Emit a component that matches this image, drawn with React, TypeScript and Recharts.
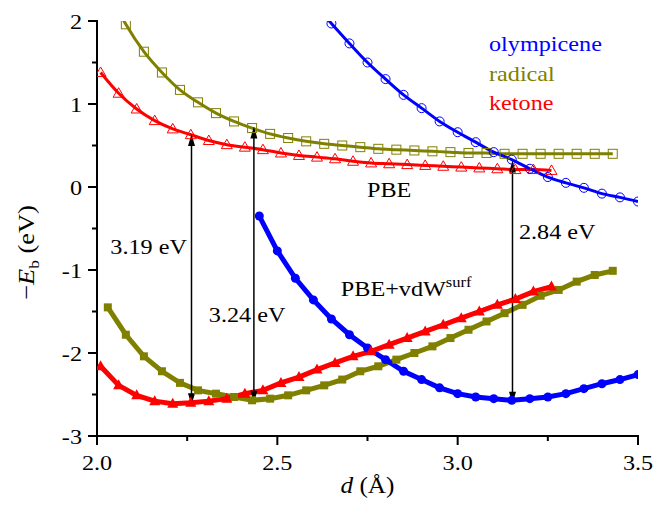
import React from "react";
import { ComposedChart, Line, XAxis, YAxis, ReferenceLine, ReferenceDot, Legend } from "recharts";

const FONT = '"Liberation Serif", "Times New Roman", Times, serif';
const BLUE = "#0000FF";
const OLIVE = "#808000";
const RED = "#FF0000";
const SX = 1.1; // horizontal text stretch of the reference

// axis ticks
const xTicks = [2.0, 2.25, 2.5, 2.75, 3.0, 3.25, 3.5];
const yTicks = [-3, -2.5, -2, -1.5, -1, -0.5, 0, 0.5, 1, 1.5, 2];

// legend
const seriesNames = ["olympicene", "radical", "ketone"];
const seriesColors = [BLUE, OLIVE, RED];

// PBE curves (open symbols)
const pbeOlyD = [2.6, 2.65, 2.7, 2.75, 2.8, 2.85, 2.9, 2.95, 3.0, 3.05, 3.1, 3.15, 3.2, 3.25, 3.3, 3.35, 3.4, 3.45, 3.5];
const pbeOlyE = [2.22, 1.97, 1.73, 1.5, 1.3, 1.11, 0.95, 0.79, 0.66, 0.54, 0.42, 0.33, 0.22, 0.12, 0.05, -0.01, -0.08, -0.125, -0.175];

const pbeRadD = [2.03, 2.08, 2.13, 2.18, 2.23, 2.28, 2.33, 2.38, 2.43, 2.48, 2.53, 2.58, 2.63, 2.68, 2.73, 2.78, 2.83, 2.88, 2.93, 2.98, 3.03, 3.08, 3.13, 3.18, 3.23, 3.28, 3.33, 3.38, 3.43];
const pbeRadE = [2.38, 1.96, 1.63, 1.38, 1.17, 1.02, 0.89, 0.79, 0.71, 0.64, 0.59, 0.55, 0.52, 0.5, 0.48, 0.46, 0.45, 0.44, 0.43, 0.42, 0.41, 0.41, 0.4, 0.4, 0.4, 0.4, 0.4, 0.4, 0.4];

const pbeKetD = [2.01, 2.06, 2.11, 2.16, 2.21, 2.26, 2.31, 2.36, 2.41, 2.46, 2.51, 2.56, 2.61, 2.66, 2.71, 2.76, 2.81, 2.86, 2.91, 2.96, 3.01, 3.06, 3.11, 3.16, 3.21, 3.26];
const pbeKetE = [1.38, 1.13, 0.94, 0.8, 0.7, 0.63, 0.56, 0.51, 0.48, 0.45, 0.41, 0.38, 0.36, 0.34, 0.31, 0.29, 0.28, 0.27, 0.26, 0.25, 0.24, 0.23, 0.22, 0.21, 0.21, 0.2];

// PBE+vdWsurf curves (filled symbols)
const vdwOlyD = [2.45, 2.5, 2.55, 2.6, 2.65, 2.7, 2.75, 2.8, 2.85, 2.9, 2.95, 3.0, 3.05, 3.1, 3.15, 3.2, 3.25, 3.3, 3.35, 3.4, 3.45, 3.5];
const vdwOlyE = [-0.35, -0.77, -1.1, -1.36, -1.59, -1.78, -1.94, -2.08, -2.22, -2.32, -2.42, -2.49, -2.53, -2.55, -2.57, -2.55, -2.53, -2.49, -2.43, -2.37, -2.32, -2.26];

const vdwRadD = [2.03, 2.08, 2.13, 2.18, 2.23, 2.28, 2.33, 2.38, 2.43, 2.48, 2.53, 2.58, 2.63, 2.68, 2.73, 2.78, 2.83, 2.88, 2.93, 2.98, 3.03, 3.08, 3.13, 3.18, 3.23, 3.28, 3.33, 3.38, 3.43];
const vdwRadE = [-1.45, -1.78, -2.04, -2.22, -2.36, -2.45, -2.49, -2.53, -2.57, -2.55, -2.51, -2.45, -2.39, -2.32, -2.22, -2.16, -2.08, -2.0, -1.92, -1.82, -1.72, -1.62, -1.52, -1.42, -1.31, -1.24, -1.14, -1.06, -1.01];

const vdwKetD = [2.01, 2.06, 2.11, 2.16, 2.21, 2.26, 2.31, 2.36, 2.41, 2.46, 2.51, 2.56, 2.61, 2.66, 2.71, 2.76, 2.81, 2.86, 2.91, 2.96, 3.01, 3.06, 3.11, 3.16, 3.21, 3.26];
const vdwKetE = [-2.16, -2.39, -2.51, -2.58, -2.61, -2.6, -2.58, -2.55, -2.49, -2.45, -2.36, -2.29, -2.2, -2.12, -2.04, -1.98, -1.9, -1.82, -1.74, -1.66, -1.58, -1.5, -1.42, -1.35, -1.26, -1.2];

// binding-energy arrows
const arrowD = [2.262, 2.435, 3.152];
const arrowTop = [0.64, 0.73, 0.32];
const arrowBottom = [-2.63, -2.6, -2.61];
const arrowLabels = ["3.19 eV", "3.24 eV", "2.84 eV"];
const arrowLabelD = [2.037, 2.31, 3.17];
const arrowLabelE = [-0.72, -1.54, -0.536];

const toPts = (xs: number[], ys: number[]) => xs.map((x, i) => ({ x, y: ys[i] }));

const isMajorX = (v: number) => Math.abs(v * 2 - Math.round(v * 2)) < 1e-6;
const isMajorY = (v: number) => Math.abs(v - Math.round(v)) < 1e-6;

function SText(props: { x: number; y: number; anchor?: string; size?: number; fill?: string; children: React.ReactNode }) {
  const { x, y, anchor = "start", size = 22, fill = "#000", children } = props;
  return (
    <text
      x={0}
      y={0}
      transform={`translate(${x},${y}) scale(${SX},1)`}
      textAnchor={anchor}
      fontFamily={FONT}
      fontSize={size}
      fill={fill}
    >
      {children}
    </text>
  );
}

function BottomTick(props: any) {
  const { x, y, payload } = props;
  const v = payload.value;
  const major = isMajorX(v);
  return (
    <g>
      <line x1={x} y1={y} x2={x} y2={y + (major ? 9 : 5)} stroke="#000" strokeWidth={2} />
      {major && (
        <SText x={x} y={y + 34} anchor="middle">
          {v.toFixed(1)}
        </SText>
      )}
    </g>
  );
}

function TopTick(props: any) {
  const { x, y, payload } = props;
  const major = isMajorX(payload.value);
  return <line x1={x} y1={y} x2={x} y2={y + (major ? 9 : 5)} stroke="#000" strokeWidth={2} />;
}

function LeftTick(props: any) {
  const { x, y, payload } = props;
  const v = payload.value;
  const major = isMajorY(v);
  return (
    <g>
      <line x1={x} y1={y} x2={x - (major ? 9 : 5)} y2={y} stroke="#000" strokeWidth={2} />
      {major && (
        <SText x={x - 15} y={y + 8} anchor="end">
          {String(v)}
        </SText>
      )}
    </g>
  );
}

function RightTick(props: any) {
  const { x, y, payload } = props;
  const major = isMajorY(payload.value);
  return <line x1={x} y1={y} x2={x - (major ? 9 : 5)} y2={y} stroke="#000" strokeWidth={2} />;
}

const openCircle = (p: any) =>
  p.cx == null ? <g key={`oc${p.index}`} /> : <circle key={`oc${p.index}`} cx={p.cx} cy={p.cy} r={4.5} fill="none" stroke={BLUE} strokeWidth={1} />;
const openSquare = (p: any) =>
  p.cx == null ? <g key={`os${p.index}`} /> : <rect key={`os${p.index}`} x={p.cx - 4.5} y={p.cy - 4.5} width={9} height={9} fill="none" stroke={OLIVE} strokeWidth={1} />;
const openTriangle = (p: any) =>
  p.cx == null ? <g key={`ot${p.index}`} /> : (
    <polygon key={`ot${p.index}`} points={`${p.cx},${p.cy - 5.5} ${p.cx - 5.5},${p.cy + 4} ${p.cx + 5.5},${p.cy + 4}`} fill="none" stroke={RED} strokeWidth={1} />
  );
const fullCircle = (p: any) =>
  p.cx == null ? <g key={`fc${p.index}`} /> : <circle key={`fc${p.index}`} cx={p.cx} cy={p.cy} r={4.5} fill={BLUE} stroke="none" />;
const fullSquare = (p: any) =>
  p.cx == null ? <g key={`fs${p.index}`} /> : <rect key={`fs${p.index}`} x={p.cx - 4} y={p.cy - 4} width={8} height={8} fill={OLIVE} stroke="none" />;
const fullTriangle = (p: any) =>
  p.cx == null ? <g key={`ft${p.index}`} /> : (
    <polygon key={`ft${p.index}`} points={`${p.cx},${p.cy - 6} ${p.cx - 5.5},${p.cy + 4} ${p.cx + 5.5},${p.cy + 4}`} fill={RED} stroke="none" />
  );

function ArrowShape(props: any) {
  const { x1, y1, x2, y2 } = props;
  const top = Math.min(y1, y2);
  const bot = Math.max(y1, y2);
  const x = x1;
  const hl = 12;
  const hw = 3.5;
  return (
    <g>
      <line x1={x} y1={top + hl - 1} x2={x} y2={bot - hl + 1} stroke="#000" strokeWidth={1.5} />
      <polygon points={`${x},${top} ${x - hw},${top + hl} ${x + hw},${top + hl}`} fill="#000" />
      <polygon points={`${x},${bot} ${x - hw},${bot - hl} ${x + hw},${bot - hl}`} fill="#000" />
    </g>
  );
}

const textShape = (content: React.ReactNode, anchor: string = "start") => (p: any) => (
  <SText x={p.cx} y={p.cy + 7.5} anchor={anchor}>
    {content}
  </SText>
);

function YTitle(props: any) {
  const vb = props.viewBox || { x: 0, y: 21, width: 97, height: 415 };
  const cx = vb.x + 34;
  const cy = vb.y + vb.height / 2 + 24;
  return (
    <text
      x={0}
      y={0}
      transform={`translate(${cx},${cy}) rotate(-90) scale(1.15,1)`}
      textAnchor="middle"
      fontFamily={FONT}
      fontSize={23}
      fill="#000"
    >
      <tspan>−</tspan>
      <tspan fontStyle="italic">E</tspan>
      <tspan fontSize={15} dy={5}>b</tspan>
      <tspan dy={-5}> (eV)</tspan>
    </text>
  );
}

function XTitle(props: any) {
  const vb = props.viewBox || { x: 97, y: 436, width: 541, height: 71 };
  const cx = vb.x + vb.width / 2;
  const cy = vb.y + 57;
  return (
    <SText x={cx} y={cy} anchor="middle" size={23}>
      <tspan fontStyle="italic">d</tspan>
      <tspan> (Å)</tspan>
    </SText>
  );
}

function LegendBox() {
  return (
    <div style={{ fontFamily: FONT, fontSize: 22, lineHeight: "29.5px", whiteSpace: "nowrap", transform: `scaleX(${SX})`, transformOrigin: "0 0" }}>
      {seriesNames.map((n, i) => (
        <div key={n} style={{ color: seriesColors[i] }}>
          {n}
        </div>
      ))}
    </div>
  );
}

const axisLineStyle = { stroke: "#000", strokeWidth: 2, strokeLinecap: "square" as const };

export default function App() {
  return (
    <div style={{ position: "absolute", left: 0, top: 0, width: 654, height: 507, background: "#fff" }}>
      <ComposedChart width={654} height={507} margin={{ top: 21, right: 16, bottom: 0, left: 0 }}>
        <XAxis
          xAxisId={0}
          type="number"
          dataKey="x"
          domain={[2, 3.5]}
          ticks={xTicks}
          interval={0}
          allowDataOverflow
          height={71}
          tickSize={0}
          tickMargin={0}
          tickLine={false}
          axisLine={axisLineStyle}
          tick={<BottomTick />}
          label={(p: any) => <XTitle {...p} />}
        />
        <XAxis
          xAxisId="top"
          orientation="top"
          type="number"
          dataKey="x"
          domain={[2, 3.5]}
          ticks={xTicks}
          interval={0}
          allowDataOverflow
          height={0}
          tickSize={0}
          tickMargin={0}
          tickLine={false}
          axisLine={axisLineStyle}
          tick={<TopTick />}
        />
        <YAxis
          yAxisId={0}
          type="number"
          domain={[-3, 2]}
          ticks={yTicks}
          interval={0}
          allowDataOverflow
          width={97}
          tickSize={0}
          tickMargin={0}
          tickLine={false}
          axisLine={axisLineStyle}
          tick={<LeftTick />}
          label={(p: any) => <YTitle {...p} />}
        />
        <YAxis
          yAxisId="right"
          orientation="right"
          type="number"
          domain={[-3, 2]}
          ticks={yTicks}
          interval={0}
          allowDataOverflow
          width={0}
          tickSize={0}
          tickMargin={0}
          tickLine={false}
          axisLine={axisLineStyle}
          tick={<RightTick />}
        />
        <Legend
          layout="vertical"
          align="center"
          verticalAlign="middle"
          content={() => <LegendBox />}
          wrapperStyle={{ left: 489, top: 29, width: "auto", height: "auto" }}
        />

        <Line data={toPts(pbeRadD, pbeRadE)} dataKey="y" type="monotone" stroke={OLIVE} strokeWidth={3} dot={openSquare} isAnimationActive={false} legendType="none" />
        <Line data={toPts(pbeKetD, pbeKetE)} dataKey="y" type="monotone" stroke={RED} strokeWidth={3} dot={openTriangle} isAnimationActive={false} legendType="none" />
        <Line data={toPts(pbeOlyD, pbeOlyE)} dataKey="y" type="monotone" stroke={BLUE} strokeWidth={3} dot={openCircle} isAnimationActive={false} legendType="none" />

        <Line data={toPts(vdwRadD, vdwRadE)} dataKey="y" type="linear" stroke={OLIVE} strokeWidth={5} dot={fullSquare} isAnimationActive={false} legendType="none" />
        <Line data={toPts(vdwOlyD, vdwOlyE)} dataKey="y" type="linear" stroke={BLUE} strokeWidth={5} dot={fullCircle} isAnimationActive={false} legendType="none" />
        <Line data={toPts(vdwKetD, vdwKetE)} dataKey="y" type="linear" stroke={RED} strokeWidth={5} dot={fullTriangle} isAnimationActive={false} legendType="none" />

        {arrowD.map((d, i) => (
          <ReferenceLine
            key={`arr${i}`}
            segment={[
              { x: d, y: arrowTop[i] },
              { x: d, y: arrowBottom[i] },
            ]}
            shape={(p: any) => <ArrowShape {...p} />}
          />
        ))}
        {arrowLabels.map((t, i) => (
          <ReferenceDot key={`lab${i}`} x={arrowLabelD[i]} y={arrowLabelE[i]} r={0} shape={textShape(t)} />
        ))}
        <ReferenceDot x={2.81} y={-0.03} r={0} shape={textShape("PBE", "middle")} />
        <ReferenceDot
          x={2.676}
          y={-1.227}
          r={0}
          shape={textShape(
            <>
              <tspan>PBE+vdW</tspan>
              <tspan fontSize={15} dy={-9}>surf</tspan>
            </>
          )}
        />
      </ComposedChart>
    </div>
  );
}
